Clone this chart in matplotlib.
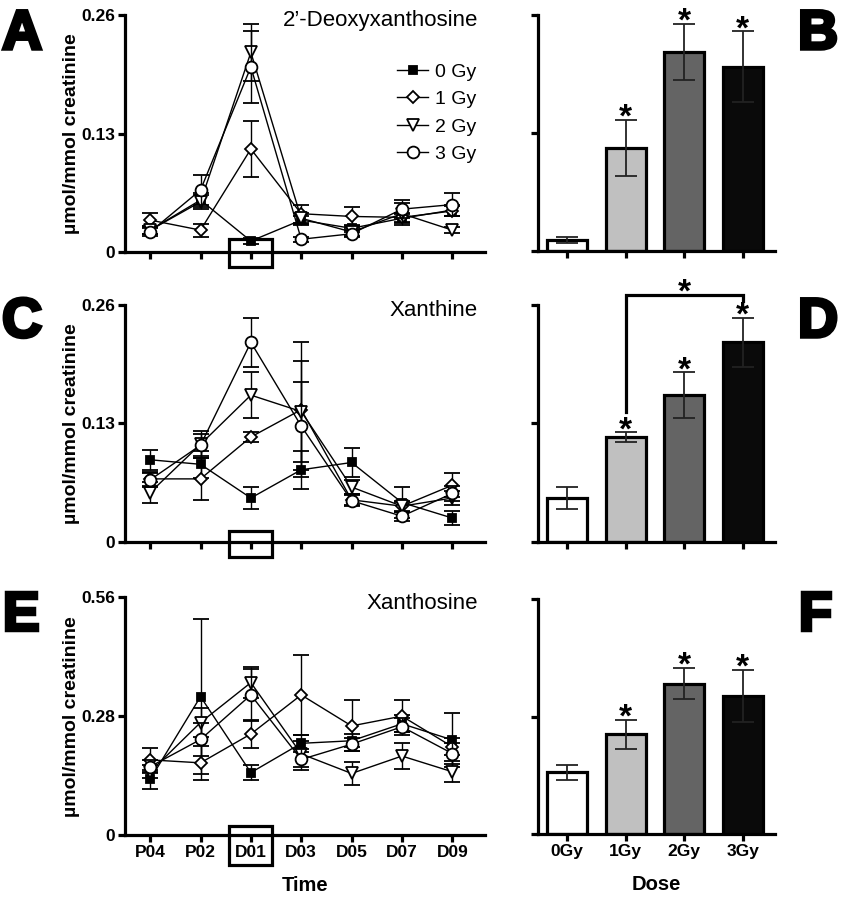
import matplotlib
matplotlib.use('Agg')
import matplotlib.pyplot as plt
import matplotlib.patheffects as pe
import matplotlib.transforms as mtransforms
from matplotlib.patches import Rectangle
from matplotlib.lines import Line2D

plt.rcParams['font.family'] = ['Liberation Sans', 'DejaVu Sans']
plt.rcParams['font.weight'] = 'bold'
plt.rcParams['axes.labelweight'] = 'bold'

times = ['P04', 'P02', 'D01', 'D03', 'D05', 'D07', 'D09']
dose_labels = ['0 Gy', '1 Gy', '2 Gy', '3 Gy']
bar_labels = ['0Gy', '1Gy', '2Gy', '3Gy']

# 2'-deoxyxanthosine, umol/mmol creatinine
dxs_0gy = [0.024, 0.057, 0.012, 0.035, 0.026, 0.037, 0.046]
dxs_1gy = [0.035, 0.024, 0.113, 0.042, 0.039, 0.038, 0.045]
dxs_2gy = [0.024, 0.055, 0.219, 0.037, 0.022, 0.042, 0.024]
dxs_3gy = [0.022, 0.068, 0.203, 0.014, 0.020, 0.047, 0.052]
dxs_0gy_err = [0.004, 0.008, 0.003, 0.005, 0.004, 0.005, 0.006]
dxs_1gy_err = [0.008, 0.007, 0.031, 0.010, 0.010, 0.005, 0.006]
dxs_2gy_err = [0.004, 0.008, 0.031, 0.006, 0.004, 0.012, 0.003]
dxs_3gy_err = [0.004, 0.016, 0.039, 0.003, 0.004, 0.010, 0.013]

# xanthine
xan_0gy = [0.090, 0.085, 0.048, 0.079, 0.087, 0.043, 0.026]
xan_1gy = [0.069, 0.069, 0.115, 0.145, 0.046, 0.039, 0.062]
xan_2gy = [0.054, 0.107, 0.161, 0.143, 0.060, 0.039, 0.048]
xan_3gy = [0.068, 0.106, 0.219, 0.127, 0.045, 0.028, 0.053]
xan_0gy_err = [0.011, 0.015, 0.012, 0.021, 0.016, 0.017, 0.008]
xan_1gy_err = [0.008, 0.023, 0.005, 0.074, 0.006, 0.006, 0.013]
xan_2gy_err = [0.012, 0.015, 0.025, 0.056, 0.008, 0.005, 0.008]
xan_3gy_err = [0.008, 0.012, 0.027, 0.048, 0.006, 0.005, 0.008]

# xanthosine
xao_0gy = [0.131, 0.326, 0.147, 0.216, 0.222, 0.262, 0.224]
xao_1gy = [0.177, 0.170, 0.238, 0.330, 0.257, 0.280, 0.208]
xao_2gy = [0.149, 0.265, 0.359, 0.191, 0.145, 0.186, 0.149]
xao_3gy = [0.161, 0.225, 0.330, 0.178, 0.214, 0.255, 0.192]
xao_0gy_err = [0.023, 0.183, 0.018, 0.020, 0.015, 0.020, 0.064]
xao_1gy_err = [0.028, 0.040, 0.034, 0.094, 0.060, 0.037, 0.020]
xao_2gy_err = [0.015, 0.035, 0.037, 0.030, 0.027, 0.030, 0.025]
xao_3gy_err = [0.015, 0.040, 0.062, 0.025, 0.015, 0.020, 0.025]

titles = ["2\u2019-Deoxyxanthosine", "Xanthine", "Xanthosine"]
ymax = [0.26, 0.26, 0.56]
yticks = [['0', '0.13', '0.26'], ['0', '0.13', '0.26'], ['0', '0.28', '0.56']]

rows = [
    ([dxs_0gy, dxs_1gy, dxs_2gy, dxs_3gy], [dxs_0gy_err, dxs_1gy_err, dxs_2gy_err, dxs_3gy_err]),
    ([xan_0gy, xan_1gy, xan_2gy, xan_3gy], [xan_0gy_err, xan_1gy_err, xan_2gy_err, xan_3gy_err]),
    ([xao_0gy, xao_1gy, xao_2gy, xao_3gy], [xao_0gy_err, xao_1gy_err, xao_2gy_err, xao_3gy_err]),
]

markers = ['s', 'D', 'v', 'o']
msizes = [6, 6, 9, 8.5]
mfaces = ['black', 'white', 'white', 'white']
bar_colors = ['white', '#c0c0c0', '#646464', '#0a0a0a']

W, H = 842, 898
fig = plt.figure(figsize=(W / 100, H / 100), dpi=100)

def fbox(l, t, r, b):
    return [l / W, 1 - b / H, (r - l) / W, (b - t) / H]

line_boxes = [(125, 15, 485, 252), (125, 305, 485, 541.7), (125, 597.3, 485, 835)]
bar_boxes = [(537.7, 15, 775, 250.7), (537.7, 305, 775, 541.7), (537.7, 599.3, 775, 834)]
# D01 box (axes fraction y0, height)
dbox = [(-0.063, 0.118), (-0.065, 0.11), (-0.126, 0.164)]
letters = [('A', 'B'), ('C', 'D'), ('E', 'F')]
letter_y = [9, 297, 590]

def style(ax):
    ax.spines['top'].set_visible(False)
    ax.spines['right'].set_visible(False)
    ax.spines['left'].set_linewidth(2.3)
    ax.spines['bottom'].set_linewidth(2.3)
    ax.tick_params(width=2.3, length=5, labelsize=12.5, pad=2)

x = list(range(len(times)))
xb = list(range(len(bar_labels)))

for r in range(3):
    means, errs = rows[r]
    ax = fig.add_axes(fbox(*line_boxes[r]))
    style(ax)
    for i in range(4):
        ax.errorbar(x, means[i], yerr=errs[i], color='black', lw=1.0,
                    marker=markers[i], ms=msizes[i], mfc=mfaces[i], mec='black', mew=1.3,
                    capsize=6, elinewidth=1.0, capthick=1.0, clip_on=False, zorder=3 + i)
    ax.set_xlim(-0.5, 6.65)
    ax.set_ylim(0, ymax[r])
    ax.set_yticks([0, ymax[r] / 2, ymax[r]])
    ax.set_yticklabels(yticks[r])
    ax.set_xticks(x)
    if r == 2:
        ax.set_xticklabels(times)
        ax.set_xlabel('Time', fontsize=14.5, labelpad=12)
    else:
        ax.set_xticklabels([])
    ax.set_ylabel('\u00b5mol/mmol creatinine', fontsize=14, labelpad=1)
    ax.text(0.98, 1.02, titles[r], transform=ax.transAxes, ha='right', va='top',
            fontsize=16, fontweight='normal')
    trans = mtransforms.blended_transform_factory(ax.transData, ax.transAxes)
    ax.add_patch(Rectangle((2 - 0.425, dbox[r][0]), 0.85, dbox[r][1], transform=trans,
                           fill=False, lw=2.3, ec='black', clip_on=False))
    if r == 0:
        handles = [Line2D([0], [0], color='black', lw=1.0, marker=markers[i], ms=msizes[i],
                          mfc=mfaces[i], mec='black', mew=1.3) for i in range(4)]
        ax.legend(handles, dose_labels, loc='upper right', bbox_to_anchor=(1.025, 0.87),
                  frameon=False, prop={'size': 14, 'weight': 'normal'},
                  handlelength=1.6, handletextpad=0.35, labelspacing=0.5)

    # bar panel: dose means at D01
    bmeans = [m[2] for m in means]
    berrs = [e[2] for e in errs]
    bx = fig.add_axes(fbox(*bar_boxes[r]))
    style(bx)
    bx.bar(xb, bmeans, width=0.68, color=bar_colors, edgecolor='black', lw=2.3, zorder=2)
    bx.errorbar(xb, bmeans, yerr=berrs, fmt='none', ecolor='#222222', elinewidth=1.3,
                capsize=8, capthick=1.3, zorder=3)
    bx.set_xlim(-0.5, 3.55)
    bx.set_ylim(0, ymax[r])
    bx.set_yticks([0, ymax[r] / 2, ymax[r]])
    bx.set_yticklabels([])
    bx.set_xticks(xb)
    if r == 2:
        bx.set_xticklabels(bar_labels)
        bx.set_xlabel('Dose', fontsize=14.5, labelpad=12)
    else:
        bx.set_xticklabels([])
    for i in range(1, 4):
        bx.annotate('*', (i, bmeans[i] + berrs[i]), xytext=(0, -10), textcoords='offset points',
                    ha='center', va='bottom', fontsize=24, annotation_clip=False)
    if r == 1:
        ytop = ymax[r] * 1.042
        bx.plot([1, 1, 3, 3], [bmeans[1] + berrs[1] + 0.022, ytop, ytop, ytop - 0.006],
                color='black', lw=2.3, clip_on=False, solid_joinstyle='miter')
        bx.annotate('*', (2, ytop), xytext=(0, -10), textcoords='offset points',
                    ha='center', va='bottom', fontsize=24, annotation_clip=False)

    for lx, lt in zip((2, 798), letters[r]):
        fig.text(lx / W, 1 - letter_y[r] / H, lt, ha='left', va='top', fontsize=40,
                 fontweight='bold',
                 path_effects=[pe.Stroke(linewidth=2.5, foreground='black', joinstyle='miter'),
                               pe.Normal()])

fig.savefig('out.png', dpi=100)
